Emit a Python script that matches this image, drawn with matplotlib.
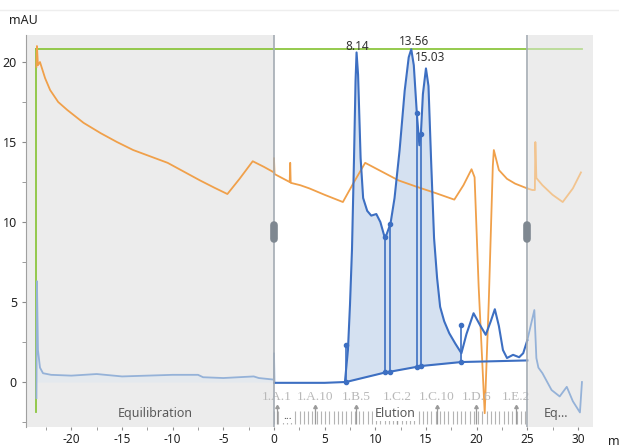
import numpy as np
import matplotlib
matplotlib.use("Agg")
import matplotlib.pyplot as plt

plt.rcParams['font.family'] = ['Noto Sans', 'DejaVu Sans']
plt.rcParams['axes.unicode_minus'] = False

# UV trace (mAU) before the elution block (equilibration, faded)
uv_pre_t = [-23.45, -23.4, -23.3, -23.1, -22.8, -22.0, -20.0, -17.5, -15.0, -12.5,
            -10.0, -7.5, -7.0, -5.0, -2.0, -1.5, 0.0, 0.0, 0.05]
uv_pre_v = [-1.0, 6.3, 2.0, 0.9, 0.55, 0.45, 0.4, 0.5, 0.35, 0.4,
            0.45, 0.45, 0.3, 0.25, 0.35, 0.25, 0.15, 1.8, -0.05]

# UV trace during elution
uv_t = [0.05, 2.0, 5.0, 7.0, 7.3, 7.5, 7.7, 7.9, 8.05, 8.15, 8.3, 8.55, 8.8, 9.2, 9.6,
        10.1, 10.5, 10.9, 11.1, 11.5, 11.9, 12.4, 12.9, 13.3, 13.55, 13.8, 14.1,
        14.35, 14.5, 14.7, 15.0, 15.25, 15.5, 15.8, 16.1, 16.4, 16.8, 17.3, 17.9,
        18.5, 19.0, 19.7, 20.3, 20.9, 21.4, 21.8, 22.2, 22.6, 23.0, 23.6, 24.2,
        24.6, 25.0]
uv_v = [-0.05, -0.05, -0.05, 0.0, 2.0, 4.8, 8.3, 14.0, 18.8, 20.6, 19.2, 14.0, 11.5,
        10.7, 10.4, 10.5, 10.0, 9.1, 9.2, 9.9, 11.5, 14.5, 18.2, 20.3, 20.8, 19.8,
        16.8, 14.8, 15.5, 18.0, 19.6, 18.5, 14.0, 9.0, 6.5, 4.7, 3.8, 3.05, 2.4,
        1.8, 3.0, 4.3, 3.6, 2.95, 3.8, 4.55, 3.5, 2.0, 1.5, 1.7, 1.55, 1.8, 2.6]

# UV trace after elution (re-equilibration, faded)
uv_post_t = [25.0, 25.7, 25.9, 26.1, 26.5, 27.4, 28.2, 28.9, 29.5, 30.2, 30.4]
uv_post_v = [2.6, 4.5, 1.5, 0.9, 0.55, -0.5, -0.9, -0.3, -1.2, -1.9, 0.0]

# second (orange) trace
or_t = [-23.45, -23.4, -23.3, -23.1, -22.6, -22.1, -21.3, -20.4, -18.8, -17.1,
        -15.5, -13.9, -12.2, -10.5, -8.9, -7.3, -5.9, -4.6, -3.4, -2.1, -1.0,
        0.0, 0.0, 0.05, 1.55, 1.6, 1.65, 2.6, 3.5, 5.0, 6.8, 7.9, 9.0, 10.5, 12.3,
        14.1, 16.0, 17.8, 18.7, 19.5, 19.8, 20.2, 20.8, 21.2, 21.6, 21.7, 21.9,
        22.2, 23.0, 23.8, 25.0]
or_v = [19.7, 21.0, 19.8, 20.0, 19.0, 18.25, 17.5, 17.0, 16.2, 15.55,
        15.0, 14.5, 14.1, 13.7, 13.15, 12.6, 12.15, 11.75, 12.7, 13.8, 13.45,
        13.1, 14.0, 13.0, 12.5, 13.7, 12.45, 12.3, 12.1, 11.7, 11.25, 12.5, 13.7,
        13.2, 12.6, 12.2, 11.8, 11.4, 12.3, 13.3, 12.8, 6.0, -1.95, 5.0, 13.5,
        14.5, 14.0, 13.25, 12.7, 12.4, 12.1]
or_post_t = [25.0, 25.5, 25.75, 25.8, 25.9, 26.5, 27.5, 28.5, 29.5, 30.3]
or_post_v = [12.1, 12.0, 12.0, 15.0, 12.75, 12.3, 11.7, 11.25, 12.1, 13.1]

# green (concentration) line
green_start = -23.45
green_end = 30.4
green_level = 20.8
green_low = -1.9

# integration baseline and peak drop lines
base_t = [7.1, 11.0, 11.5, 14.1, 14.5, 18.5, 25.0]
base_v = [0.0, 0.6, 0.65, 0.95, 1.0, 1.25, 1.35]
drop_t = [7.1, 11.0, 11.5, 14.1, 14.5, 18.5]
drop_top = [2.3, 9.05, 9.9, 16.8, 15.5, 3.55]
drop_base = [0.0, 0.6, 0.65, 0.95, 1.0, 1.25]

peak_lbl = ["8.14", "13.56", "15.03"]
peak_lbl_pos = [(8.2, 21.0), (13.8, 21.3), (15.4, 20.3)]

# fractions
frac_names = ["1.A.1", "1.A.10", "1.B.5", "1.C.2", "1.C.10", "1.D.6", "1.E.2"]
frac_lbl_t = [0.3, 4.05, 8.1, 12.15, 16.1, 19.95, 23.9]
frac_width = 0.42
elution_start = 0.0
elution_end = 25.0

dark_blue = "#3d6fc2"
pale_blue = "#95b2d8"
orange = "#f0a04a"
pale_orange = "#f2c48f"
green = "#8cc63f"
pale_green = "#b9db95"
grey_bg = "#ececec"

fig = plt.figure(figsize=(6.19, 4.48), dpi=100)
ax = fig.add_axes([0.042, 0.0469, 0.916, 0.875])
ax.set_facecolor(grey_bg)
ax.axvspan(elution_start, elution_end, color="white", zorder=0)

ax.set_xlim(-24.48, 31.49)
ax.set_ylim(-2.81, 21.69)

# green line
ax.plot([green_start, green_start], [green_low, green_level], color=green, lw=1.3, zorder=2)
ax.plot([green_start, elution_end], [green_level, green_level], color=green, lw=1.3, zorder=2)
ax.plot([elution_end, green_end], [green_level, green_level], color=pale_green, lw=1.3, zorder=2)

# orange trace
ax.plot(or_t, or_v, color=orange, lw=1.3, zorder=3)
ax.plot(or_post_t, or_post_v, color=pale_orange, lw=1.3, zorder=3)

# uv trace
ax.fill_between(uv_pre_t, uv_pre_v, 0, color="#dfe7f1", alpha=0.6, lw=0, zorder=2)
ax.plot(uv_pre_t, uv_pre_v, color=pale_blue, lw=1.3, zorder=3)
ax.plot(uv_post_t, uv_post_v, color=pale_blue, lw=1.3, zorder=3)

uv_t_arr = np.array(uv_t)
uv_v_arr = np.array(uv_v)
m = (uv_t_arr >= drop_t[0]) & (uv_t_arr <= drop_t[-1])
ft = np.concatenate([[drop_t[0]], uv_t_arr[m], [drop_t[-1]]])
fv = np.concatenate([[np.interp(drop_t[0], uv_t, uv_v)], uv_v_arr[m],
                     [np.interp(drop_t[-1], uv_t, uv_v)]])
ax.fill_between(ft, fv, np.interp(ft, base_t, base_v), color="#d5e1f1", lw=0, zorder=2)
ax.plot(uv_t, uv_v, color=dark_blue, lw=1.5, zorder=4)
ax.plot(base_t, base_v, color=dark_blue, lw=1.5, zorder=4)
ax.vlines(drop_t, drop_base, drop_top, color=dark_blue, lw=1.2, zorder=4)
ax.plot(drop_t, drop_top, "o", color=dark_blue, ms=3, zorder=5)
ax.plot(drop_t, drop_base, "o", color=dark_blue, ms=3, zorder=5)

for (x, y), s in zip(peak_lbl_pos, peak_lbl):
    ax.text(x, y, s, ha="center", va="center", fontsize=8.5, color="#333333", zorder=6)

# block boundaries + handles
for b in [elution_start, elution_end]:
    ax.axvline(b, color="#a4abb3", lw=1.2, zorder=5)
    ax.plot([b, b], [8.95, 9.8], color="#7f8891", lw=5.5, solid_capstyle="round", zorder=6)

# fraction marks
frac_t = np.arange(elution_start, elution_end, frac_width)
ax.vlines(frac_t, -2.65, -1.8, color="#b4b4b4", lw=0.8, zorder=3)
ax.vlines(frac_lbl_t, -2.65, -1.55, color="#9a9a9a", lw=0.9, zorder=3)
ax.plot(frac_lbl_t, [-1.55] * len(frac_lbl_t), marker=(3, 0, 0), ls="none",
        color="#9a9a9a", ms=3, zorder=3)
for t, s in zip(frac_lbl_t, frac_names):
    ax.text(t, -0.95, s, ha="center", va="center", fontsize=9.5, color="#b8b8b8",
            family="Liberation Serif", zorder=3)

ax.text(-11.75, -1.94, "Equilibration", ha="center", va="center", fontsize=9, color="#5a5a5a")
ax.text(11.95, -1.94, "Elution", ha="center", va="center", fontsize=9, color="#5a5a5a",
        bbox=dict(boxstyle="square,pad=0.1", fc="white", ec="none"), zorder=6)
ax.text(1.3, -2.15, "...", ha="center", va="center", fontsize=8, color="#5a5a5a",
        bbox=dict(boxstyle="square,pad=0.1", fc="white", ec="none"), zorder=6)
ax.text(27.8, -1.94, "Eq...", ha="center", va="center", fontsize=9, color="#5a5a5a")

# axes styling
for sp in ["top", "right", "bottom"]:
    ax.spines[sp].set_visible(False)
ax.spines["left"].set_color("#a0a0a0")
ax.set_xticks([-20, -15, -10, -5, 0, 5, 10, 15, 20, 25, 30])
ax.set_xticks(np.arange(-22.5, 31, 5), minor=True)
ax.set_yticks([0, 5, 10, 15, 20])
ax.set_yticks([-2.5, 2.5, 7.5, 12.5, 17.5], minor=True)
ax.tick_params(axis="both", which="both", colors="#8a8a8a", labelcolor="#222222",
               labelsize=9, length=3)
ax.tick_params(axis="x", which="both", pad=1.5, length=2.5, labelsize=8.5)

fig.text(9 / 619, 1 - 20 / 448, "mAU", ha="left", va="center", fontsize=9, color="#222222")
fig.text(608 / 619, 1 - 441 / 448, "min", ha="left", va="center", fontsize=9, color="#222222")
fig.add_artist(plt.Line2D([0, 1], [1 - 10 / 448, 1 - 10 / 448], color="#eeeeee", lw=1))

fig.savefig("out.png", dpi=100)
